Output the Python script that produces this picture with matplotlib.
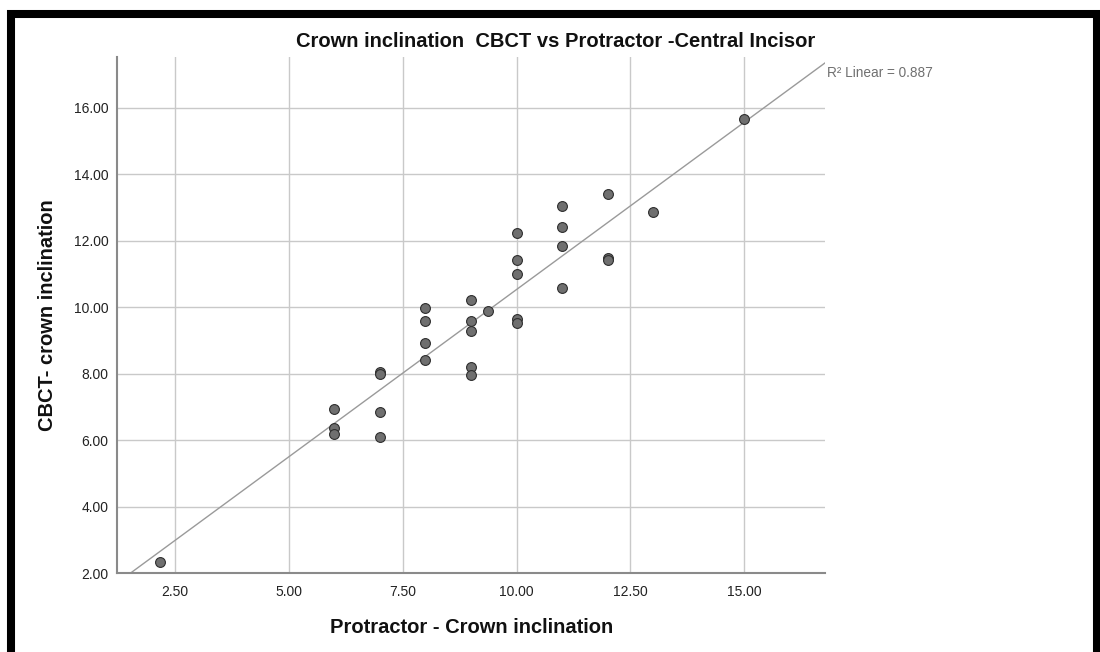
import matplotlib
matplotlib.use("Agg")
import matplotlib.pyplot as plt
from matplotlib.patches import Rectangle
import numpy as np

# protractor reading (x) vs CBCT reading (y)
protractor = [2.18,
              6, 6, 6,
              7, 7, 7, 7,
              8, 8, 8, 8,
              9, 9, 9, 9, 9,
              9.37,
              10, 10, 10, 10, 10,
              11, 11, 11, 11,
              12, 12, 12,
              13,
              15]
cbct = [2.35,
        6.95, 6.37, 6.20,
        8.07, 7.99, 6.86, 6.09,
        9.97, 9.60, 8.93, 8.42,
        10.22, 9.59, 9.30, 8.22, 7.96,
        9.90,
        12.25, 11.44, 11.01, 9.66, 9.54,
        13.04, 12.43, 11.86, 10.57,
        13.41, 11.48, 11.42,
        12.86,
        15.67]

x_ticks = [2.5, 5.0, 7.5, 10.0, 12.5, 15.0]
y_ticks = [2, 4, 6, 8, 10, 12, 14, 16]
r2_text = "R\u00b2 Linear = 0.887"

plt.rcParams["font.family"] = ["Liberation Sans", "DejaVu Sans"]

fig = plt.figure(figsize=(11, 6.52), dpi=100)
ax = fig.add_axes([0.1064, 0.1204, 0.6436, 0.7922])

xs = np.array(protractor)
ys = np.array(cbct)
slope, intercept = np.polyfit(xs, ys, 1)

xlim = (1.23, 16.77)
ylim = (2.0, 17.53)
ax.set_xlim(*xlim)
ax.set_ylim(*ylim)

line_x = np.array(xlim)
ax.plot(line_x, intercept + slope * line_x, color="#9a9a9a", lw=1.0, zorder=2)
ax.scatter(xs, ys, s=50, c="#6f6f6f", edgecolors="#2e2e2e", linewidths=0.8, zorder=3)

ax.set_xticks(x_ticks)
ax.set_yticks(y_ticks)
ax.set_xticklabels([f"{v:.2f}" for v in x_ticks])
ax.set_yticklabels([f"{v:.2f}" for v in y_ticks])
ax.tick_params(length=0, labelsize=10, colors="#222222")
ax.tick_params(axis="y", pad=6)
ax.tick_params(axis="x", pad=8)
ax.grid(True, color="#c9c9c9", lw=1.0, zorder=0)
ax.set_axisbelow(True)
for side in ["top", "right"]:
    ax.spines[side].set_visible(False)
for side in ["left", "bottom"]:
    ax.spines[side].set_color("#8a8a8a")
    ax.spines[side].set_linewidth(1.5)

ax.text(xlim[1] + 0.05, 17.05, r2_text, fontsize=9.8, color="#707070",
        ha="left", va="center", clip_on=False)

fig.text(0.5055, 0.937, "Crown inclination  CBCT vs Protractor -Central Incisor",
         ha="center", va="center", fontsize=14.5, fontweight="bold", color="#111111")
fig.text(0.429, 0.038, "Protractor - Crown inclination", ha="center", va="center",
         fontsize=14.5, fontweight="bold", color="#111111")
fig.text(0.0436, 0.517, "CBCT- crown inclination", ha="center", va="center",
         rotation=90, fontsize=14.5, fontweight="bold", color="#111111")

fig.add_artist(Rectangle((0.01, -0.05), 0.9873, 0.9785 + 0.05, transform=fig.transFigure,
                         fill=False, ec="black", lw=5.8, clip_on=False))

fig.savefig("out.png", dpi=100)
